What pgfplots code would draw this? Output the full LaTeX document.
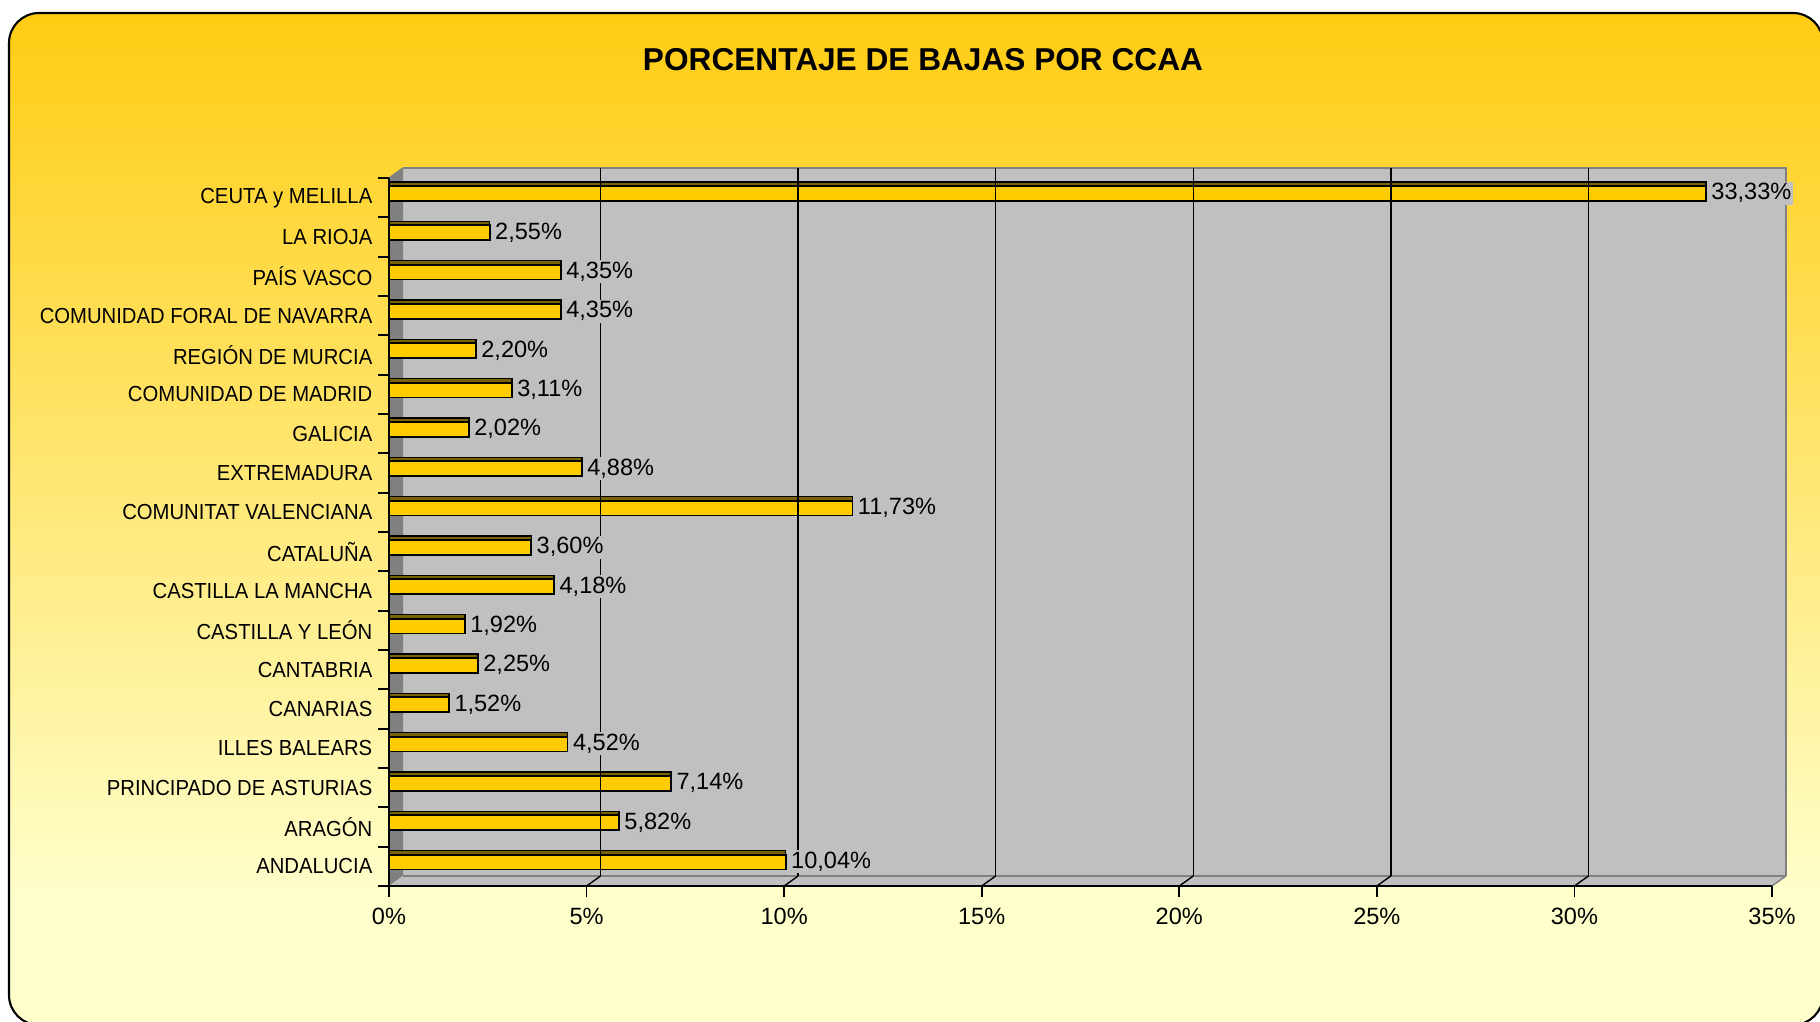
\documentclass[border=0pt]{standalone}
\usepackage{pgfplots}
\usepackage{pgfplotstable}
\pgfplotsset{compat=1.18}
\usepackage{fontspec}
\setmainfont{Liberation Sans}
\newfontfamily\condfont[FakeStretch=0.93]{Liberation Sans}
\definecolor{barY}{HTML}{FFCC00}
\definecolor{barTop}{HTML}{7A6200}
\definecolor{wallG}{HTML}{C0C0C0}
\definecolor{sideG}{HTML}{808080}
\definecolor{bgTop}{HTML}{FFCC12}
\definecolor{bgBot}{HTML}{FFFFCC}
\pgfplotstableread{
pos val
0 10.04
1 5.82
2 7.14
3 4.52
4 1.52
5 2.25
6 1.92
7 4.18
8 3.60
9 11.73
10 4.88
11 2.02
12 3.11
13 2.20
14 4.35
15 4.35
16 2.55
17 33.33
}\bajas
\begin{document}
\begin{tikzpicture}
\useasboundingbox (0,0) rectangle (182mm,102.1mm);
\begin{scope}
\clip[rounded corners=3mm] (0.9mm,-0.4mm) rectangle (182.3mm,100.8mm);
\fill[bgBot] (-1mm,-1mm) rectangle (183mm,103mm);
\shade[top color=bgTop, bottom color=bgBot] (-1mm,12mm) rectangle (183mm,101mm);
\end{scope}
\draw[line width=0.6pt, rounded corners=3mm] (0.9mm,-0.4mm) rectangle (182.3mm,100.8mm);
\node[font=\bfseries\fontsize{9}{11}\selectfont] at (92.3mm,96.1mm) {PORCENTAJE DE BAJAS POR CCAA};
% walls
\fill[wallG] (40.3mm,14.5mm) rectangle (178.6mm,85.3mm);
\draw[sideG, line width=0.4pt] (40.3mm,85.3mm) -- (178.6mm,85.3mm) -- (178.6mm,14.5mm);
\fill[sideG] (38.9mm,13.5mm) -- (40.3mm,14.5mm) -- (40.3mm,85.3mm) -- (38.9mm,84.3mm) -- cycle;
\fill[wallG] (38.9mm,13.5mm) -- (177.2mm,13.5mm) -- (178.6mm,14.5mm) -- (40.3mm,14.5mm) -- cycle;
\draw[sideG, line width=0.8pt] (40.3mm,14.5mm) -- (178.6mm,14.5mm);
\draw[sideG, line width=0.4pt] (177.2mm,13.5mm) -- (178.6mm,14.5mm);
\draw[sideG, line width=0.4pt] (38.9mm,84.3mm) -- (40.3mm,85.3mm);
\begin{axis}[
  at={(38.9mm,13.5mm)}, anchor=south west,
  scale only axis, width=138.3mm, height=70.8mm,
  xmin=0, xmax=35, ymin=-0.5, ymax=17.5,
  clip=false,
  axis x line*=bottom, axis y line*=left,
  axis line style={-, black, line width=0.5pt},
  tick align=outside,
  major tick length=1.1mm, minor tick length=1.1mm,
  tick style={black, line width=0.5pt},
  xtick={0,5,...,35},
  xticklabel={\pgfmathprintnumber{\tick}\%},
  xticklabel style={font=\fontsize{6.7}{8}\selectfont, inner sep=0pt, yshift=-1mm},
  ytick={0,...,17},
  yticklabels={ANDALUCIA, ARAGÓN, PRINCIPADO DE ASTURIAS, ILLES BALEARS, CANARIAS, CANTABRIA, CASTILLA Y LEÓN, CASTILLA LA MANCHA, CATALUÑA, COMUNITAT VALENCIANA, EXTREMADURA, GALICIA, COMUNIDAD DE MADRID, REGIÓN DE MURCIA, COMUNIDAD FORAL DE NAVARRA, PAÍS VASCO, LA RIOJA, CEUTA y MELILLA},
  minor ytick={-0.5,0.5,...,17.5},
  major y tick style={draw=none},
  yticklabel style={font=\condfont\fontsize{6.2}{7}\selectfont, inner sep=0pt, xshift=-0.5mm},
  /pgf/number format/assume math mode=true,
]
\addplot[xbar, bar width=0.38, bar shift=0.107, fill=barY, draw=black, line width=0.5pt] table[x=val, y=pos]{\bajas};
\addplot[xbar, bar width=0.1, bar shift=0.35, fill=barTop, draw=black, line width=0.4pt] table[x=val, y=pos]{\bajas};
\pgfplotsinvokeforeach{5,10,15,20,25,30}{
  \draw[black, line width=0.4pt] ([xshift=1.4mm,yshift=1mm]axis cs:#1,-0.5) -- ([xshift=1.4mm,yshift=1mm]axis cs:#1,17.5);
  \draw[black, line width=0.4pt] (axis cs:#1,-0.5) -- ([xshift=1.4mm,yshift=1mm]axis cs:#1,-0.5);
}
\addplot[xbar, bar width=0.38, bar shift=0.107, draw=none, fill=none,
  point meta=x,
  nodes near coords={\pgfmathprintnumber[fixed,fixed zerofill,precision=2,use comma]{\pgfplotspointmeta}\%},
  nodes near coords style={anchor=west, font=\fontsize{6.7}{8}\selectfont, fill=wallG, inner sep=0.5pt, xshift=0.3mm, yshift=0.45mm, text=black}
] table[x=val, y=pos]{\bajas};
\end{axis}
\end{tikzpicture}
\end{document}
